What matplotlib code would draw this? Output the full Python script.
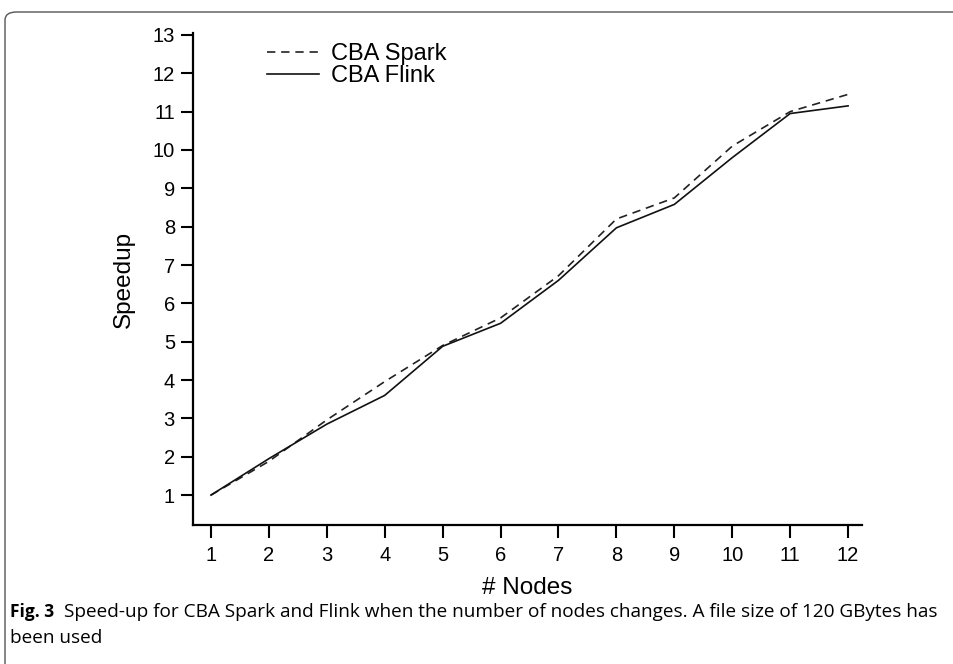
import matplotlib
matplotlib.use('Agg')
import matplotlib.pyplot as plt
from matplotlib.patches import FancyBboxPatch

nodes = [1, 2, 3, 4, 5, 6, 7, 8, 9, 10, 11, 12]
spark = [1.0, 1.88, 2.96, 3.96, 4.9, 5.62, 6.72, 8.2, 8.75, 10.1, 11.0, 11.45]
flink = [1.0, 1.95, 2.85, 3.6, 4.88, 5.48, 6.6, 7.97, 8.58, 9.8, 10.95, 11.15]

caption_head = 'Fig. 3'
caption_body = ('Speed-up for CBA Spark and Flink when the number of nodes changes. '
                'A file size of 120 GBytes has')
caption_tail = 'been used'

plt.rcParams['font.family'] = ['Liberation Sans', 'DejaVu Sans']

W, H = 954, 664
fig = plt.figure(figsize=(W / 100, H / 100), dpi=100)
ax = fig.add_axes([193 / W, 1 - 525 / H, 669 / W, 492 / H])

ax.plot(nodes, spark, color='#222222', lw=1.2, ls=(0, (5, 3.5)), label='CBA Spark')
ax.plot(nodes, flink, color='#111111', lw=1.2, label='CBA Flink')

ax.set_xlim(0.69, 12.24)
ax.set_ylim(0.22, 13.05)
ax.set_xticks(nodes)
ax.set_yticks(range(1, 14))
ax.tick_params(direction='out', length=9, width=1.5, labelsize=14.5, pad=4)
ax.tick_params(axis='x', pad=6)
for side in ['top', 'right']:
    ax.spines[side].set_visible(False)
for side in ['left', 'bottom']:
    ax.spines[side].set_linewidth(1.6)

ax.set_xlabel('# Nodes', fontsize=17.5, labelpad=9)
ax.set_ylabel('Speedup', fontsize=17.5, labelpad=13)

ax.legend(loc='upper left', bbox_to_anchor=(0.097, 0.998), frameon=False,
          fontsize=17, handlelength=2.2, handletextpad=0.5, labelspacing=0.0,
          borderaxespad=0)

# rounded frame around the figure and its caption
frame = FancyBboxPatch((5 / W, -0.05), 1.1, 1.0 - 12 / H + 0.05,
                       boxstyle='round,pad=0,rounding_size=0.012',
                       transform=fig.transFigure, fill=False,
                       edgecolor='#555555', lw=1.0)
fig.patches.append(frame)

# caption: bold head, then the body sized to run to the right margin
cap = dict(family=['Open Sans', 'DejaVu Sans'], va='baseline')
renderer = fig.canvas.get_renderer()
head = fig.text(10 / W, 1 - 617 / H, caption_head, fontweight='bold',
                fontsize=12.5, **cap)
x0 = head.get_window_extent(renderer).x1 + 10
body = fig.text(x0 / W, 1 - 617 / H, caption_body, fontsize=12.5, **cap)
w = body.get_window_extent(renderer).width
size = 12.5 * (943 - x0) / w
body.set_fontsize(size)
fig.text(10 / W, 1 - 643 / H, caption_tail, fontsize=size, **cap)

fig.savefig('out.png', dpi=100)
